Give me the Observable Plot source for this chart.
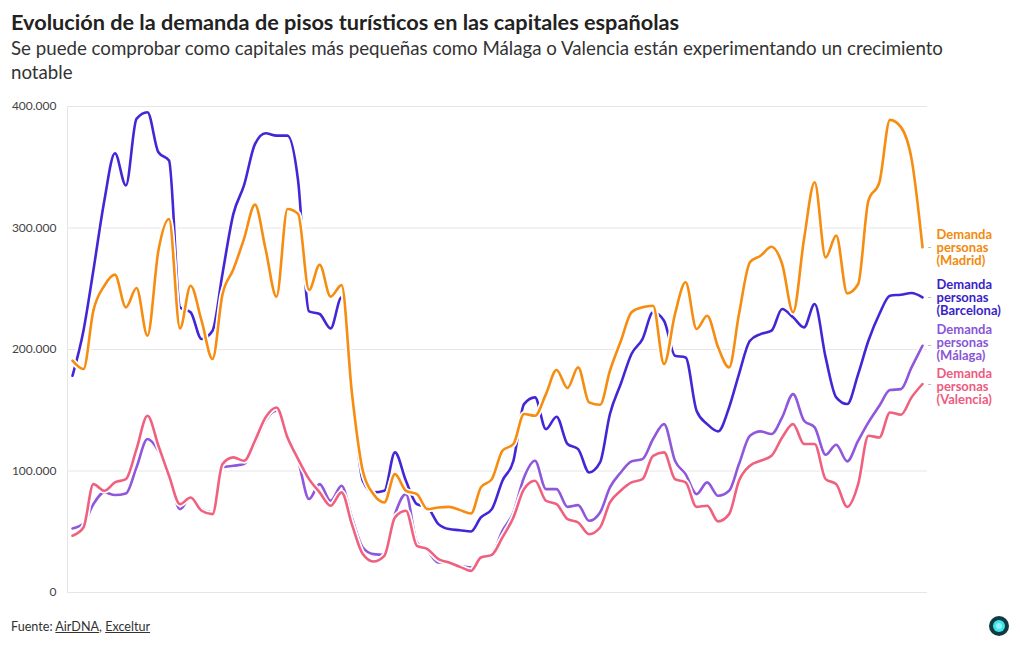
<!DOCTYPE html>
<html><head><meta charset="utf-8">
<script src="https://cdn.jsdelivr.net/npm/d3@7"></script>
<script src="https://cdn.jsdelivr.net/npm/@observablehq/plot@0.6"></script>
<style>
body{margin:0;background:#fff;font-family:Lato,"Open Sans",sans-serif;color:#333}
#title{position:absolute;left:11px;top:8px;font-size:21.7px;font-weight:bold;line-height:28px;color:#222;white-space:nowrap}
#subtitle{position:absolute;left:11px;top:36px;font-size:18.7px;line-height:24px;color:#333;width:1005px}
#chart{position:absolute;left:0;top:96px}
#footer{position:absolute;left:11px;top:619px;font-size:12.6px;color:#333}
#footer a{color:#333;text-decoration:underline}
#logo{position:absolute;left:988px;top:615px}
</style></head>
<body>
<div id="title">Evolución de la demanda de pisos turísticos en las capitales españolas</div>
<div id="subtitle">Se puede comprobar como capitales más pequeñas como Málaga o Valencia están experimentando un crecimiento<br>notable</div>
<div id="chart"></div>
<div id="footer">Fuente: <a>AirDNA</a>, <a>Exceltur</a></div>
<svg id="logo" width="22" height="22"><circle cx="11" cy="11" r="10" fill="#0f3b40"/><circle cx="11" cy="11" r="6" fill="#3fe3ec"/><circle cx="11" cy="11" r="3" fill="#8ff4f8"/></svg>
<script>
const months = d3.utcMonths(new Date(Date.UTC(2018,0,1)), new Date(Date.UTC(2024,8,1)));
const yTicks = [0,100000,200000,300000,400000];
const seriesNames = ["Málaga","Valencia","Barcelona","Madrid"];
const seriesColors = ["#8f57dc","#f0607f","#4326d6","#f68c10"];
const labelColors = ["#8a55d8","#ee5a80","#3a1fc8","#f28a0c"];
const labelShift = [-3, 3, 0, 1];

const madrid = [190800,183900,232000,252500,261600,234700,250600,211400,281400,307400,217400,252500,223700,192200,245000,266000,291000,319200,282700,243500,315700,311600,249000,269800,243500,253000,165000,100200,81000,74100,97400,83700,81000,68600,70000,70500,67800,65000,86500,93300,116700,122200,146900,145500,163300,183100,168300,185300,156500,154500,182500,207200,230600,234700,236000,188000,229200,255300,216900,227800,201800,185300,229200,271800,277200,284600,270400,230600,291000,337600,275800,293700,246200,253900,322500,337600,389000,383000,356900,284100];
const barcelona = [178400,215500,265000,322500,361500,335000,389800,395300,362300,355500,234700,230600,208600,215500,262000,311600,335000,369000,378000,376000,376000,339000,231400,229200,217400,243000,165000,92000,82400,83700,115300,92000,72700,70000,56300,52200,51300,50200,61800,68600,92000,108400,155000,160600,134500,144700,122200,118000,98800,107000,146900,172000,196300,208600,230600,223700,194900,193500,149600,138600,132600,152300,179800,207200,212700,215500,233300,226500,218200,237400,193500,160600,155100,179800,207200,229200,244300,245100,246500,242900];
const malaga = [52700,56800,72700,82400,80200,81500,103000,126300,116700,97400,68600,78200,68600,65900,103000,104300,105700,122000,141400,149600,124900,108400,76900,89200,75500,87800,61800,37000,31600,31000,64500,81000,41200,34300,24700,24700,22000,20600,28800,31600,50800,65900,94700,108400,85100,85100,70500,71900,59000,65900,86500,99000,107900,109800,126300,138600,108400,97400,81000,90600,79600,83700,105700,129000,132600,130400,144100,163300,141400,135900,113400,121600,107900,124900,140000,153700,166600,167400,185300,203100];
const valencia = [46700,53500,89200,83700,90600,93300,118000,145500,120800,96100,72700,78200,67300,64500,105700,111200,108400,124900,144100,152300,127600,109800,93300,82400,71400,82400,56300,31600,25500,30200,61800,67300,38400,35700,27500,24700,21100,17800,28800,31000,45300,61800,85100,92000,75500,72700,60400,57600,48000,53500,74100,84000,90600,93300,112500,115300,93300,90600,70500,71400,58500,64500,92000,104300,108400,112500,127600,138600,122200,122200,93300,89200,70500,89200,129000,127600,148200,146300,160600,171600];
const seriesValues = [malaga, valencia, barcelona, madrid];

const fmt = d3.formatLocale({decimal:",",thousands:".",grouping:[3],currency:["","€"]}).format(",");
const font = 'Lato,"Open Sans",sans-serif';

const marks = [
  Plot.gridY(yTicks, {stroke:"#e6e6e6", strokeOpacity:1}),
  Plot.ruleX([months[0]], {y1:0, y2:400000, dx:-5, stroke:"#e6e6e6"}),
  Plot.axisY(yTicks, {tickFormat:fmt, tickSize:0, tickPadding:11, label:null, fontSize:12, fill:"#444"})
];
seriesNames.forEach((name, k) => {
  const rows = months.map((d,i) => ({date:d, value:seriesValues[k][i]}));
  marks.push(Plot.line(rows, {x:"date", y:"value", stroke:"#fff", strokeWidth:6, curve:"monotone-x"}));
  marks.push(Plot.line(rows, {x:"date", y:"value", stroke:seriesColors[k], strokeWidth:2.6, curve:"monotone-x"}));
  const last = [rows[rows.length-1]];
  marks.push(Plot.text(last, {x:"date", y:"value", text:() => "-", dx:7, fill:"#b5b5b5", fontSize:11}));
  marks.push(Plot.text(last, {x:"date", y:"value", text:() => `Demanda\npersonas\n(${name})`, dx:14, dy:labelShift[k], textAnchor:"start", fill:labelColors[k], fontWeight:"bold", fontSize:13, lineHeight:1.0}));
});

const chart = Plot.plot({
  width:1020, height:508,
  marginTop:10, marginLeft:67, marginRight:93, marginBottom:12,
  style:{fontFamily:font, fontSize:"12px", color:"#444", background:"transparent", overflow:"visible"},
  x:{type:"utc", domain:[months[0], months[months.length-1]], insetLeft:5, insetRight:5, axis:null},
  y:{domain:[0,400000], axis:null},
  marks
});
document.getElementById("chart").appendChild(chart);
</script>
</body></html>
